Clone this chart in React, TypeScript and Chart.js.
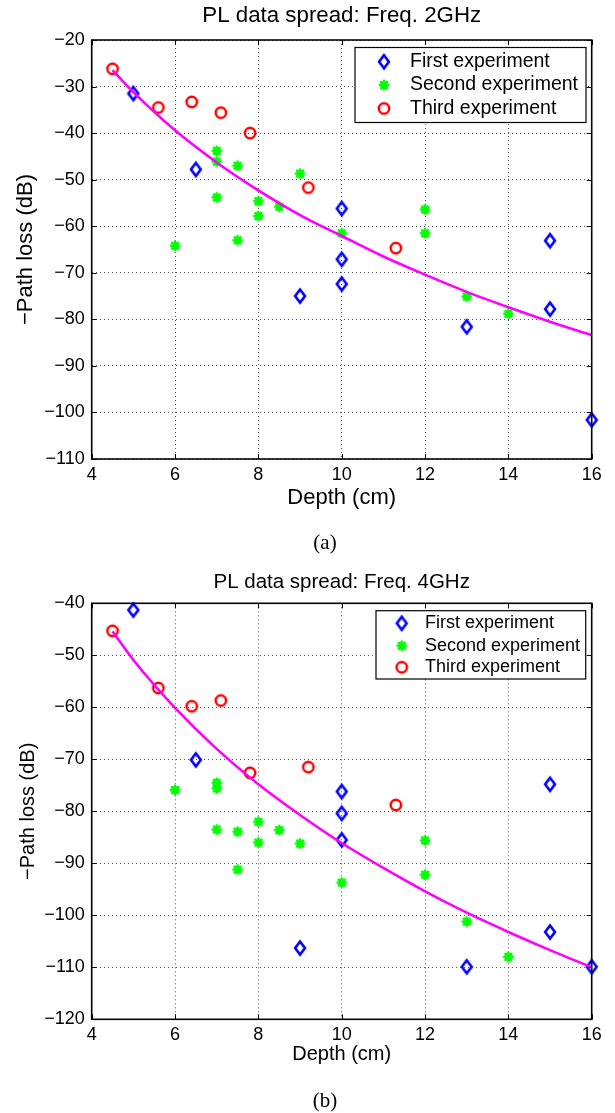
import React, { useEffect, useRef } from "react";
import { Chart, registerables } from "chart.js";

Chart.register(...registerables);

// ---------- data ----------
const xTickValues = [4, 6, 8, 10, 12, 14, 16];
const legendLabels = ["First experiment", "Second experiment", "Third experiment"];

// Panel (a): 2 GHz
const first2X = [5, 6.5, 9, 10, 10, 10, 13, 15, 15, 16];
const first2Y = [-31.5, -47.8, -75.0, -56.2, -67.1, -72.4, -81.6, -63.1, -77.8, -101.6];
const second2X = [6, 7, 7, 7, 7.5, 7.5, 8, 8, 8.5, 9, 10, 12, 12, 13, 14];
const second2Y = [-64.2, -43.8, -46.1, -53.8, -47.0, -63.0, -54.6, -57.8, -55.8, -48.7, -61.5, -56.4, -61.5, -75.1, -78.8];
const third2X = [4.5, 5.6, 6.4, 7.1, 7.8, 9.2, 11.3];
const third2Y = [-26.2, -34.5, -33.3, -35.6, -40.0, -51.7, -64.7];

// Panel (b): 4 GHz
const first4X = [5, 6.5, 9, 10, 10, 10, 13, 15, 15, 16];
const first4Y = [-41.3, -70.1, -106.3, -76.2, -80.4, -85.5, -109.9, -74.8, -103.2, -109.9];
const second4X = [6, 7, 7, 7, 7.5, 7.5, 8, 8, 8.5, 9, 10, 12, 12, 13, 14];
const second4Y = [-75.9, -74.5, -75.6, -83.5, -83.9, -91.2, -82.0, -86.0, -83.6, -86.2, -93.7, -85.6, -92.2, -101.2, -108.0];
const third4X = [4.5, 5.6, 6.4, 7.1, 7.8, 9.2, 11.3];
const third4Y = [-45.3, -56.3, -59.8, -58.7, -72.6, -71.5, -78.8];

// Fitted curves
const fitX = [4.5, 5, 6, 7, 8, 9, 10, 11, 12, 13, 14, 15, 16];
const fit2Y = [-26.5, -31.2, -39.4, -46.3, -52.3, -57.6, -62.1, -66.5, -70.4, -74.1, -77.4, -80.5, -83.4];
const fit4Y = [-45.4, -50.9, -60.1, -68.0, -74.8, -80.7, -86.1, -90.9, -95.4, -99.5, -103.2, -106.7, -110.0];

// ---------- styles ----------
const BLUE = "#0000ff";
const GREEN = "#00ff00";
const RED = "#ff0000";
const MAGENTA = "#ff00ff";
const SANS = '"Liberation Sans", Arial, Helvetica, sans-serif';
const SERIF = '"Liberation Serif", "Times New Roman", serif';

const toPts = (xs: number[], ys: number[]) => xs.map((x, i) => ({ x, y: ys[i] }));
const minus = (v: any) => String(v).replace("-", "\u2212");

function makeDiamond(): HTMLCanvasElement {
  const c = document.createElement("canvas");
  c.width = 20;
  c.height = 24;
  const g = c.getContext("2d")!;
  g.strokeStyle = BLUE;
  g.lineWidth = 2.6;
  g.lineJoin = "miter";
  g.beginPath();
  g.moveTo(10, 12 - 6.6);
  g.lineTo(10 + 4.9, 12);
  g.lineTo(10, 12 + 6.6);
  g.lineTo(10 - 4.9, 12);
  g.closePath();
  g.stroke();
  return c;
}

function makeAsterisk(): HTMLCanvasElement {
  const c = document.createElement("canvas");
  c.width = 16;
  c.height = 16;
  const g = c.getContext("2d")!;
  g.strokeStyle = GREEN;
  g.fillStyle = GREEN;
  g.lineWidth = 2.6;
  g.lineCap = "round";
  const s = 4.2;
  g.beginPath();
  for (let k = 0; k < 4; k++) {
    const ang = (k * Math.PI) / 4;
    g.moveTo(8 - Math.cos(ang) * s, 8 - Math.sin(ang) * s);
    g.lineTo(8 + Math.cos(ang) * s, 8 + Math.sin(ang) * s);
  }
  g.stroke();
  g.beginPath();
  g.arc(8, 8, 3, 0, Math.PI * 2);
  g.fill();
  return c;
}

function makeCircle(): HTMLCanvasElement {
  const c = document.createElement("canvas");
  c.width = 18;
  c.height = 18;
  const g = c.getContext("2d")!;
  g.strokeStyle = RED;
  g.lineWidth = 2.5;
  g.beginPath();
  g.arc(9, 9, 5.2, 0, Math.PI * 2);
  g.stroke();
  return c;
}

type PanelCfg = {
  top: number;
  height: number;
  title: string;
  caption: string;
  yMin: number;
  yMax: number;
  firstX: number[];
  firstY: number[];
  secondX: number[];
  secondY: number[];
  thirdX: number[];
  thirdY: number[];
  fitY: number[];
  plotTop: number;
  plotBottom: number;
  titleY: number;
  titleFont: number;
  labelFont: number;
  tickFont: number;
  xTitlePadBottom: number;
  yTitlePadTop: number;
  legendFont: number;
  legendBox: [number, number, number, number];
  legendMarkerX: number;
  legendTextX: number;
  legendRows: number[];
  captionX: number;
  captionY: number;
  captionFont: number;
};

const panelA: PanelCfg = {
  top: 0,
  height: 560,
  title: "PL data spread: Freq. 2GHz",
  caption: "(a)",
  yMin: -110,
  yMax: -20,
  firstX: first2X,
  firstY: first2Y,
  secondX: second2X,
  secondY: second2Y,
  thirdX: third2X,
  thirdY: third2Y,
  fitY: fit2Y,
  plotTop: 40,
  plotBottom: 459,
  titleY: 16,
  titleFont: 22.3,
  labelFont: 22,
  tickFont: 18,
  xTitlePadBottom: 49,
  yTitlePadTop: 13,
  legendFont: 19.5,
  legendBox: [355, 47.5, 586, 122.5],
  legendMarkerX: 384,
  legendTextX: 410,
  legendRows: [61.7, 85, 108.5],
  captionX: 325,
  captionY: 543,
  captionFont: 21,
};

const panelB: PanelCfg = {
  top: 560,
  height: 553,
  title: "PL data spread: Freq. 4GHz",
  caption: "(b)",
  yMin: -120,
  yMax: -40,
  firstX: first4X,
  firstY: first4Y,
  secondX: second4X,
  secondY: second4Y,
  thirdX: third4X,
  thirdY: third4Y,
  fitY: fit4Y,
  plotTop: 43.3,
  plotBottom: 459.3,
  titleY: 22.5,
  titleFont: 20.5,
  labelFont: 20,
  tickFont: 18,
  xTitlePadBottom: 46.5,
  yTitlePadTop: 16,
  legendFont: 18,
  legendBox: [376, 50.7, 585.7, 119],
  legendMarkerX: 401.7,
  legendTextX: 425,
  legendRows: [63.3, 85.7, 107.3],
  captionX: 325,
  captionY: 541,
  captionFont: 21,
};

const PLOT_LEFT = 91.7;
const PLOT_RIGHT = 591.7;
const WIDTH = 615;

function Panel({ cfg }: { cfg: PanelCfg }) {
  const ref = useRef<HTMLCanvasElement>(null);

  useEffect(() => {
    const diamond = makeDiamond();
    const asterisk = makeAsterisk();
    const circle = makeCircle();

    const decor = {
      id: "decor",
      afterDraw(chart: any) {
        const { ctx, chartArea: a } = chart;
        ctx.save();
        // frame
        ctx.strokeStyle = "#000";
        ctx.lineWidth = 1.6;
        ctx.strokeRect(a.left, a.top, a.right - a.left, a.bottom - a.top);
        // inward ticks on all four sides
        const tl = 5;
        ctx.lineWidth = 1;
        ctx.beginPath();
        const xs = chart.scales.x;
        const ys = chart.scales.y;
        xs.ticks.forEach((t: any) => {
          const p = Math.round(xs.getPixelForValue(t.value)) + 0.5;
          ctx.moveTo(p, a.bottom);
          ctx.lineTo(p, a.bottom - tl);
          ctx.moveTo(p, a.top);
          ctx.lineTo(p, a.top + tl);
        });
        ys.ticks.forEach((t: any) => {
          const p = Math.round(ys.getPixelForValue(t.value)) + 0.5;
          ctx.moveTo(a.left, p);
          ctx.lineTo(a.left + tl, p);
          ctx.moveTo(a.right, p);
          ctx.lineTo(a.right - tl, p);
        });
        ctx.stroke();

        // title
        ctx.fillStyle = "#000";
        ctx.textAlign = "center";
        ctx.textBaseline = "middle";
        ctx.font = `${cfg.titleFont}px ${SANS}`;
        ctx.fillText(cfg.title, (a.left + a.right) / 2, cfg.titleY);

        // caption
        ctx.font = `${cfg.captionFont}px ${SERIF}`;
        ctx.fillText(cfg.caption, cfg.captionX, cfg.captionY);

        // legend
        const [x0, y0, x1, y1] = cfg.legendBox;
        ctx.fillStyle = "#fff";
        ctx.fillRect(x0, y0, x1 - x0, y1 - y0);
        ctx.strokeStyle = "#000";
        ctx.lineWidth = 1.2;
        ctx.strokeRect(x0, y0, x1 - x0, y1 - y0);

        const mx = cfg.legendMarkerX;
        const r = cfg.legendRows;
        [diamond, asterisk, circle].forEach((img, i) => {
          ctx.drawImage(img, mx - img.width / 2, r[i] - img.height / 2);
        });

        ctx.fillStyle = "#000";
        ctx.textAlign = "left";
        ctx.textBaseline = "middle";
        ctx.font = `${cfg.legendFont}px ${SANS}`;
        legendLabels.forEach((lab, i) => ctx.fillText(lab, cfg.legendTextX, r[i]));
        ctx.restore();
      },
    };

    const gridCfg = {
      color: "rgba(0,0,0,0.65)",
      lineWidth: 1,
      drawTicks: false,
    };

    const chart = new Chart(ref.current!, {
      type: "scatter",
      data: {
        datasets: [
          {
            label: "fit",
            data: toPts(fitX, cfg.fitY),
            showLine: true,
            borderColor: MAGENTA,
            backgroundColor: MAGENTA,
            borderWidth: 2.6,
            pointRadius: 0,
            tension: 0.4,
            cubicInterpolationMode: "monotone",
            fill: false,
            order: 0,
            clip: false,
          } as any,
          {
            label: legendLabels[2],
            data: toPts(cfg.thirdX, cfg.thirdY),
            pointStyle: circle,
            pointRadius: 6,
            borderWidth: 0,
            borderColor: RED,
            backgroundColor: RED,
            order: 1,
            clip: false,
          } as any,
          {
            label: legendLabels[1],
            data: toPts(cfg.secondX, cfg.secondY),
            pointStyle: asterisk,
            pointRadius: 5,
            borderWidth: 0,
            borderColor: GREEN,
            backgroundColor: GREEN,
            order: 2,
            clip: false,
          } as any,
          {
            label: legendLabels[0],
            data: toPts(cfg.firstX, cfg.firstY),
            pointStyle: diamond,
            pointRadius: 6,
            borderWidth: 0,
            borderColor: BLUE,
            backgroundColor: BLUE,
            order: 3,
            clip: false,
          } as any,
        ],
      },
      options: {
        responsive: false,
        animation: false,
        devicePixelRatio: 1,
        events: [],
        layout: {
          padding: { left: 0, right: WIDTH - PLOT_RIGHT, top: cfg.plotTop, bottom: 0 },
        },
        plugins: {
          legend: { display: false },
          title: { display: false },
          tooltip: { enabled: false },
        },
        scales: {
          x: {
            type: "linear",
            position: "bottom",
            min: 4,
            max: 16,
            afterBuildTicks: (scale: any) => {
              scale.ticks = xTickValues.map((v) => ({ value: v }));
            },
            afterFit: (scale: any) => {
              scale.height = cfg.height - cfg.plotBottom;
            },
            grid: gridCfg,
            border: { display: false, dash: [1, 3] },
            ticks: {
              padding: 5,
              color: "#000",
              font: { family: SANS, size: cfg.tickFont },
              maxRotation: 0,
              autoSkip: false,
              callback: (v: any) => minus(v),
            },
            title: {
              display: true,
              text: "Depth (cm)",
              color: "#000",
              font: { family: SANS, size: cfg.labelFont },
              padding: { top: 0, bottom: cfg.xTitlePadBottom },
            },
          },
          y: {
            type: "linear",
            position: "left",
            min: cfg.yMin,
            max: cfg.yMax,
            ticks: {
              stepSize: 10,
              padding: 7,
              color: "#000",
              font: { family: SANS, size: cfg.tickFont },
              autoSkip: false,
              callback: (v: any) => minus(v),
            },
            afterFit: (scale: any) => {
              scale.width = PLOT_LEFT;
            },
            grid: gridCfg,
            border: { display: false, dash: [1, 3] },
            title: {
              display: true,
              text: "\u2212Path loss (dB)",
              color: "#000",
              font: { family: SANS, size: cfg.labelFont },
              padding: { top: cfg.yTitlePadTop, bottom: 0 },
            },
          },
        },
      } as any,
      plugins: [decor],
    });

    return () => chart.destroy();
  }, [cfg]);

  return (
    <canvas
      ref={ref}
      width={WIDTH}
      height={cfg.height}
      style={{ position: "absolute", left: 0, top: cfg.top, width: WIDTH, height: cfg.height, display: "block" }}
    />
  );
}

export default function App() {
  return (
    <div style={{ position: "absolute", left: 0, top: 0, width: WIDTH, height: 1113, background: "#fff" }}>
      <Panel cfg={panelA} />
      <Panel cfg={panelB} />
    </div>
  );
}
